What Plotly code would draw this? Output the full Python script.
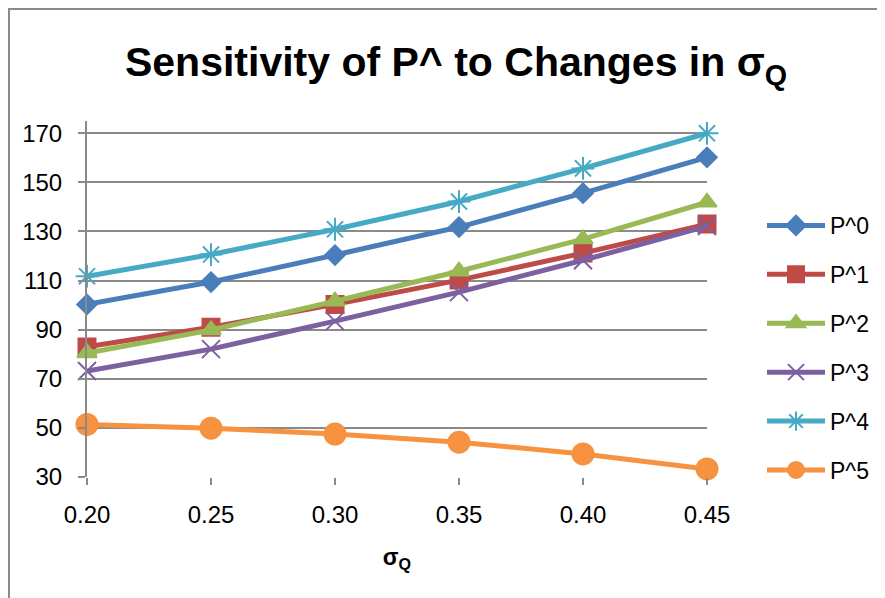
import plotly.graph_objects as go

sigma_q = [0.20, 0.25, 0.30, 0.35, 0.40, 0.45]
tick_labels = ["0.20", "0.25", "0.30", "0.35", "0.40", "0.45"]
series_names = ["P^0", "P^1", "P^2", "P^3", "P^4", "P^5"]
p0 = [100.3, 109.4, 120.4, 131.8, 145.6, 160.2]
p1 = [83.0, 91.0, 100.3, 110.2, 121.2, 133.0]
p2 = [80.5, 89.9, 101.6, 113.8, 126.9, 141.9]
p3 = [73.2, 82.1, 93.5, 105.3, 118.3, 132.2]
p4 = [111.8, 120.6, 130.9, 142.2, 155.7, 170.0]
p5 = [51.4, 49.9, 47.5, 44.2, 39.4, 33.3]
values = [p0, p1, p2, p3, p4, p5]

colors = ["#4A7EBB", "#BE4B48", "#98B954", "#7D60A0", "#46AAC5", "#F69240"]
symbols = ["diamond", "square", "triangle-up", "x-thin-open", "asterisk-open", "circle"]
sizes = [15, 17, 17, 18, 19, 21]

fig = go.Figure()
for name, vals, c, s, sz in zip(series_names, values, colors, symbols, sizes):
    fig.add_trace(go.Scatter(
        x=sigma_q, y=vals, name=name, mode="lines+markers",
        line=dict(color=c, width=5),
        marker=dict(symbol=s, size=sz, color=c, line=dict(color=c, width=2)),
        cliponaxis=False, legendgroup=name,
    ))

# page has an 8px body margin; work in figure coordinates
OFF = 8
W, H = 885 - OFF, 598 - OFF
L, R, T, B = 87 - OFF, 707 - OFF, 121 - OFF, 477 - OFF
pw, ph = R - L, B - T

def px(xp):
    return (xp - L) / pw

def py(yp):
    return (B - yp) / ph

fig.update_layout(
    width=W, height=H,
    margin=dict(l=L, r=W - R, t=T, b=H - B, autoexpand=False),
    paper_bgcolor="white", plot_bgcolor="white",
    font=dict(family="Liberation Sans, Arial, sans-serif", color="#000000"),
    title=dict(
        text="<b>Sensitivity of P^ to Changes in σ<sub>Q</sub></b>",
        font=dict(size=41, family="Liberation Sans, Arial, sans-serif", color="#000000"),
        x=(456 - OFF) / W, xref="container", xanchor="center",
        y=1 - (62 - OFF) / H, yref="container", yanchor="middle",
    ),
    xaxis=dict(
        range=[0.20, 0.45], tickvals=sigma_q, ticktext=tick_labels,
        showgrid=False, zeroline=False,
        showline=False,
        ticks="outside", ticklen=7, tickwidth=2, tickcolor="#8a8a8a",
        tickfont=dict(size=24), ticklabelstandoff=9,
        title=dict(text="<b>σ<sub>Q</sub></b>", font=dict(size=23), standoff=22),
    ),
    yaxis=dict(
        range=[30, 175], tickvals=[30, 50, 70, 90, 110, 130, 150, 170],
        showgrid=True, gridcolor="#8a8a8a", gridwidth=2, zeroline=False,
        showline=True, linecolor="#8a8a8a", linewidth=2,
        ticks="outside", ticklen=7, tickwidth=2, tickcolor="#8a8a8a",
        tickfont=dict(size=24), ticklabelstandoff=11,
    ),
    legend=dict(
        x=px(754), y=py(196), xanchor="left", yanchor="top",
        font=dict(size=23), tracegroupgap=16, bgcolor="rgba(0,0,0,0)",
        itemwidth=58,
    ),
    showlegend=True,
    shapes=[dict(
        type="rect", xref="paper", yref="paper",
        x0=px(1), x1=px(900), y0=py(620), y1=py(1),
        line=dict(color="#8a8a8a", width=2), fillcolor="rgba(0,0,0,0)", layer="below",
    )],
)

fig.write_html("out.html")
